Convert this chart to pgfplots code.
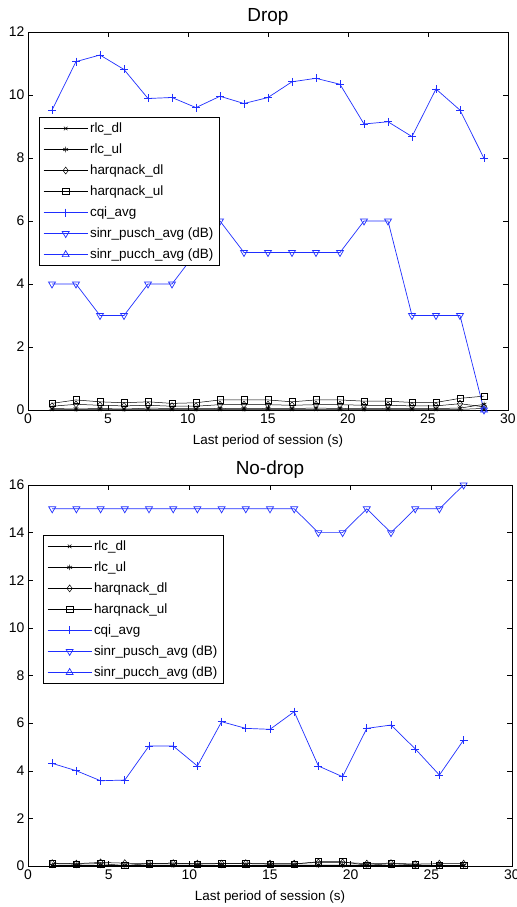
\documentclass[border=0pt]{standalone}
\usepackage{fontspec}
\setmainfont{Liberation Sans}
\usepackage{pgfplots}
\pgfplotsset{compat=1.18}

\definecolor{mblue}{rgb}{0.12,0.18,1}

\pgfplotsset{
  mstyle/.style={
    scale only axis,
    xmin=0, xmax=30, xtick={0,5,...,30},
    ymin=0,
    tick align=inside, tick style={black, line width=0.5bp},
    major tick length=5bp,
    axis line style={line width=0.6bp},
    tick label style={font=\fontsize{14}{16}\selectfont},
    /pgf/number format/assume math mode=true,
    label style={font=\fontsize{13.5}{15}\selectfont},
    title style={font=\fontsize{19}{21}\selectfont, yshift=-3bp},
    xlabel={Last period of session (s)},
    xlabel style={yshift=-5bp},
    legend cell align=left,
    legend style={font=\fontsize{13.5}{15}\selectfont, draw=black,
      line width=0.6bp, row sep=5.8bp, inner xsep=4bp, inner ysep=3.5bp},
    legend image code/.code={
      \draw[mark repeat=2,mark phase=2] plot coordinates {(0bp,0bp) (22bp,0bp) (44bp,0bp)};
    },
  },
  kl/.style={black, line width=0.5bp, mark options={solid, line width=0.5bp, fill=none}},
  bl/.style={mblue, line width=0.7bp, mark options={solid, line width=0.7bp, fill=none}},
}

\begin{document}
\begin{tikzpicture}
\useasboundingbox (0,0) rectangle (517bp,-907bp);

% Top: Drop
\begin{axis}[mstyle,
  at={(28bp,-32bp)}, anchor=north west,
  width=480bp, height=378bp,
  ymax=12, ytick={0,2,...,12},
  title={Drop},
  legend style={at={(0.023,0.775)}, anchor=north west},
]
\addplot[kl, mark=x, mark size=2.5bp] coordinates {
  (1.5,0.02) (3,0.02) (4.5,0.02) (6,0.02) (7.5,0.02) (9,0.02) (10.5,0.02)
  (12,0.02) (13.5,0.02) (15,0.02) (16.5,0.02) (18,0.02) (19.5,0.02) (21,0.02)
  (22.5,0.02) (24,0.02) (25.5,0.02) (27,0.02) (28.5,0.05)
};
\addlegendentry{rlc\_dl}
\addplot[kl, mark=asterisk, mark size=2.8bp] coordinates {
  (1.5,0.05) (3,0.03) (4.5,0.05) (6,0.03) (7.5,0.06) (9,0.05) (10.5,0.04)
  (12,0.05) (13.5,0.04) (15,0.05) (16.5,0.05) (18,0.06) (19.5,0.05) (21,0.04)
  (22.5,0.05) (24,0.05) (25.5,0.05) (27,0.06) (28.5,0.18)
};
\addlegendentry{rlc\_ul}
\addplot[kl, mark=diamond, mark size=3.5bp] coordinates {
  (1.5,0.12) (3,0.18) (4.5,0.15) (6,0.13) (7.5,0.15) (9,0.12) (10.5,0.12)
  (12,0.17) (13.5,0.17) (15,0.17) (16.5,0.15) (18,0.17) (19.5,0.17) (21,0.15)
  (22.5,0.15) (24,0.13) (25.5,0.13) (27,0.2) (28.5,0.1)
};
\addlegendentry{harqnack\_dl}
\addplot[kl, mark=square, mark size=3.2bp] coordinates {
  (1.5,0.21) (3,0.32) (4.5,0.26) (6,0.23) (7.5,0.26) (9,0.21) (10.5,0.23)
  (12,0.32) (13.5,0.32) (15,0.32) (16.5,0.26) (18,0.32) (19.5,0.32) (21,0.28)
  (22.5,0.28) (24,0.24) (25.5,0.24) (27,0.37) (28.5,0.44)
};
\addlegendentry{harqnack\_ul}
\addplot[bl, mark=+, mark size=4bp] coordinates {
  (1.5,9.52) (3,11.06) (4.5,11.27) (6,10.81) (7.5,9.89) (9,9.92) (10.5,9.6)
  (12,9.96) (13.5,9.73) (15,9.92) (16.5,10.42) (18,10.53) (19.5,10.34) (21,9.08)
  (22.5,9.15) (24,8.68) (25.5,10.19) (27,9.52) (28.5,7.99)
};
\addlegendentry{cqi\_avg}
\addplot[bl, mark=triangle, mark size=4bp, mark options={rotate=180}] coordinates {
  (1.5,4) (3,4) (4.5,3) (6,3) (7.5,4) (9,4) (10.5,5)
  (12,6) (13.5,5) (15,5) (16.5,5) (18,5) (19.5,5) (21,6)
  (22.5,6) (24,3) (25.5,3) (27,3) (28.5,0)
};
\addlegendentry{sinr\_pusch\_avg (dB)}
\addplot[bl, mark=triangle, mark size=4bp] coordinates {
  (28.5,0)
};
\addlegendentry{sinr\_pucch\_avg (dB)}
\end{axis}

% Bottom: No-drop
\begin{axis}[mstyle,
  at={(28bp,-485bp)}, anchor=north west,
  width=484bp, height=381bp,
  ymax=16, ytick={0,2,...,16},
  title={No-drop},
  legend style={at={(0.031,0.869)}, anchor=north west},
]
\addplot[kl, mark=x, mark size=2.5bp] coordinates {
  (1.5,0.02) (3,0.02) (4.5,0.02) (6,0.02) (7.5,0.02) (9,0.02) (10.5,0.02)
  (12,0.02) (13.5,0.02) (15,0.02) (16.5,0.02) (18,0.02) (19.5,0.02) (21,0.02)
  (22.5,0.02) (24,0.02) (25.5,0.02) (27,0.02)
};
\addlegendentry{rlc\_dl}
\addplot[kl, mark=asterisk, mark size=2.8bp] coordinates {
  (1.5,0.03) (3,0.03) (4.5,0.03) (6,0.02) (7.5,0.03) (9,0.04) (10.5,0.03)
  (12,0.03) (13.5,0.03) (15,0.03) (16.5,0.03) (18,0.04) (19.5,0.04) (21,0.03)
  (22.5,0.03) (24,0.03) (25.5,0.02) (27,0.03)
};
\addlegendentry{rlc\_ul}
\addplot[kl, mark=diamond, mark size=3.5bp] coordinates {
  (1.5,0.12) (3,0.1) (4.5,0.15) (6,0.12) (7.5,0.1) (9,0.12) (10.5,0.1)
  (12,0.1) (13.5,0.12) (15,0.1) (16.5,0.1) (18,0.15) (19.5,0.15) (21,0.1)
  (22.5,0.12) (24,0.08) (25.5,0.1) (27,0.1)
};
\addlegendentry{harqnack\_dl}
\addplot[kl, mark=square, mark size=3.2bp] coordinates {
  (1.5,0.1) (3,0.08) (4.5,0.1) (6,0.02) (7.5,0.1) (9,0.12) (10.5,0.08)
  (12,0.1) (13.5,0.1) (15,0.08) (16.5,0.08) (18,0.18) (19.5,0.18) (21,0.03)
  (22.5,0.1) (24,0.05) (25.5,0.02) (27,0.03)
};
\addlegendentry{harqnack\_ul}
\addplot[bl, mark=+, mark size=4bp] coordinates {
  (1.5,4.31) (3,4.0) (4.5,3.58) (6,3.61) (7.5,5.04) (9,5.04) (10.5,4.2)
  (12,6.06) (13.5,5.78) (15,5.74) (16.5,6.48) (18,4.2) (19.5,3.75) (21,5.78)
  (22.5,5.92) (24,4.92) (25.5,3.82) (27,5.29)
};
\addlegendentry{cqi\_avg}
\addplot[bl, mark=triangle, mark size=4bp, mark options={rotate=180}] coordinates {
  (1.5,15) (3,15) (4.5,15) (6,15) (7.5,15) (9,15) (10.5,15)
  (12,15) (13.5,15) (15,15) (16.5,15) (18,14) (19.5,14) (21,15)
  (22.5,14) (24,15) (25.5,15) (27,16)
};
\addlegendentry{sinr\_pusch\_avg (dB)}
\addlegendimage{bl, mark=triangle, mark size=4bp}
\addlegendentry{sinr\_pucch\_avg (dB)}
\end{axis}
\end{tikzpicture}
\end{document}
